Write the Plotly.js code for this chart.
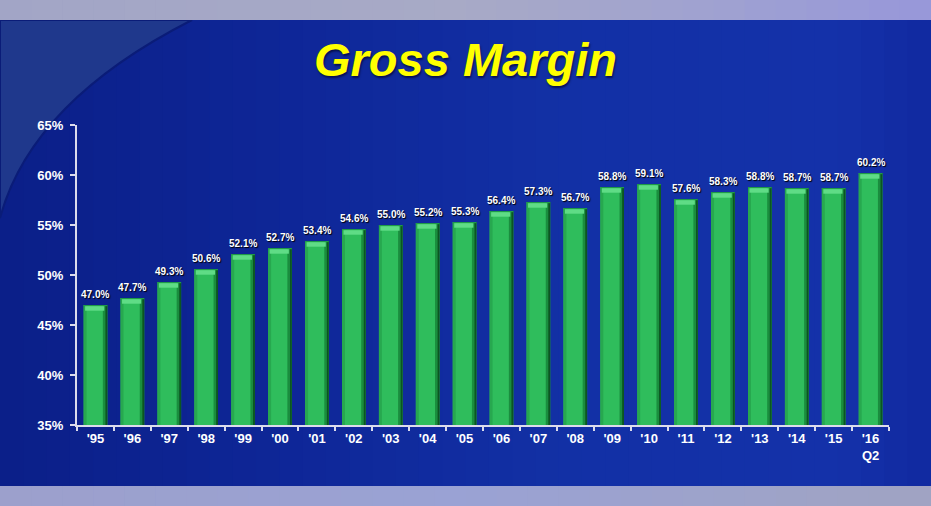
<!DOCTYPE html>
<html><head><meta charset="utf-8">
<script src="https://cdn.plot.ly/plotly-3.0.1.min.js"></script>
<style>html,body{margin:0;padding:0;background:#a2a5c8;}#chart{width:931px;height:506px;}</style>
</head><body><div id="chart"></div>
<script>
// ---- data ----
const categories = ["'95","'96","'97","'98","'99","'00","'01","'02","'03","'04","'05","'06","'07","'08","'09","'10","'11","'12","'13","'14","'15","'16<br>Q2"];
const grossMargin = [47.0,47.7,49.3,50.6,52.1,52.7,53.4,54.6,55.0,55.2,55.3,56.4,57.3,56.7,58.8,59.1,57.6,58.3,58.8,58.7,58.7,60.2];
const yTicks = [35,40,45,50,55,60,65];
const yTickLabels = ["35%","40%","45%","50%","55%","60%","65%"];
const chartTitle = "Gross Margin";

// ---- layout geometry (pixels) ----
const W = 931, H = 506;
const ML = 77, MR = 42, MT = 125, MB = 81;
const PW = W - ML - MR, PH = H - MT - MB;
const px = x => (x - ML) / PW;
const py = y => (H - MB - y) / PH;

function hex(c){return [parseInt(c.slice(1,3),16),parseInt(c.slice(3,5),16),parseInt(c.slice(5,7),16)];}
function lerpStops(stops, t){
  for(let i=0;i<stops.length-1;i++){
    const [t0,c0]=stops[i],[t1,c1]=stops[i+1];
    if(t>=t0&&t<=t1){const f=(t-t0)/(t1-t0);const a=hex(c0),b=hex(c1);
      return 'rgb('+a.map((v,k)=>Math.round(v+(b[k]-v)*f)).join(',')+')';}
  }
  return stops[stops.length-1][1];
}
const shapes = [];
function gradBand(y0,y1,stops,n){
  const sw=W/n;
  for(let i=0;i<n;i++){
    const c=lerpStops(stops,(i+0.5)/n);
    shapes.push({type:'rect',xref:'paper',yref:'paper',x0:px(i*sw),x1:px((i+1)*sw+0.8),y0:py(y1),y1:py(y0),fillcolor:c,line:{width:0},layer:'below'});
  }
}
// blue panel
gradBand(20,486,[[0,'#0b1f88'],[0.3,'#0e2697'],[0.6,'#1230a5'],[0.9,'#1431a9'],[1,'#1129a0']],40);
// lighter top-left arc region
const arcPath = `M ${px(0)},${py(20)} L ${px(192)},${py(20)} Q ${px(31)},${py(102)} ${px(0)},${py(218)} Z`;
shapes.push({type:'path',xref:'paper',yref:'paper',path:arcPath,fillcolor:'#1f388c',line:{color:'#0a1c78',width:2},layer:'below'});
// top and bottom lavender bands
gradBand(0,20,[[0,'#a2a5c6'],[0.5,'#a8aac6'],[0.8,'#9ea0d2'],[1,'#9797da']],30);
gradBand(486,506,[[0,'#9ca0cc'],[0.5,'#9aa2d4'],[1,'#a0a3c2']],30);

const textLabels = grossMargin.map(v => v.toFixed(1) + '%');

const traces = [
  { type:'bar', x:categories, y:grossMargin.map(v=>v-35), base:35, width:0.64, offset:-0.32,
    marker:{color:'#2fbd5c', line:{width:0}}, hoverinfo:'skip', showlegend:false },
  { type:'bar', x:categories, y:grossMargin.map(v=>v-35), base:35, width:0.08, offset:-0.32,
    marker:{color:'#27a84f', line:{width:0}}, hoverinfo:'skip', showlegend:false },
  { type:'bar', x:categories, y:grossMargin.map(v=>v-35), base:35, width:0.12, offset:0.2,
    marker:{color:'#1a8d3e', line:{width:0}}, hoverinfo:'skip', showlegend:false },
  { type:'bar', x:categories, y:grossMargin.map(v=>v-35), base:35, width:0.05, offset:0.27,
    marker:{color:'#0c5522', line:{width:0}}, hoverinfo:'skip', showlegend:false },
  { type:'bar', x:categories, y:grossMargin.map(()=>0.12), base:grossMargin.map(v=>v-0.12), width:0.64, offset:-0.32,
    marker:{color:'#1f9a48', line:{width:0}}, hoverinfo:'skip', showlegend:false },
  { type:'bar', x:categories, y:grossMargin.map(()=>0.45), base:grossMargin.map(v=>v-0.57), width:0.52, offset:-0.28,
    marker:{color:'#5fdc86', line:{width:0}}, hoverinfo:'skip', showlegend:false }
];

const annotations = categories.map((c,i)=>({
  x:c, y:grossMargin[i], xref:'x', yref:'y', text:textLabels[i], showarrow:false,
  yanchor:'middle', xanchor:'center', yshift:11,
  font:{family:'Liberation Sans, Arial, sans-serif', size:10, color:'#ffffff', weight:'bold', shadow:'1px 1px 1px #000'}
}));

const layout = {
  width:W, height:H,
  margin:{l:ML, r:MR, t:MT, b:MB, pad:0},
  paper_bgcolor:'#0f299c', plot_bgcolor:'rgba(0,0,0,0)',
  barmode:'overlay',
  shapes:shapes,
  annotations:annotations,
  title:{text:chartTitle, x:0.5, xref:'container', xanchor:'center', y:1-60/H, yref:'container', yanchor:'middle',
    font:{family:'Liberation Sans, Arial, sans-serif', size:47, color:'#ffff00', weight:'bold', style:'italic', shadow:'1px 2px 2px rgba(0,0,30,0.6)'}},
  xaxis:{type:'category', showgrid:false, zeroline:false, showline:true, linecolor:'#dcdcec', linewidth:2,
    ticks:'outside', ticklen:4, tickwidth:2, tickcolor:'#dcdcec', tickson:'boundaries',
    tickfont:{family:'Liberation Sans, Arial, sans-serif', size:13, color:'#ffffff', weight:'bold'},
    range:[-0.5, categories.length-0.5], fixedrange:true},
  yaxis:{range:[35,65], tickvals:yTicks, ticktext:yTickLabels, showgrid:false, zeroline:false,
    showline:true, linecolor:'#dcdcec', linewidth:2, ticks:'outside', ticklen:5, tickwidth:2, tickcolor:'#dcdcec',
    ticklabelstandoff:4,
    tickfont:{family:'Liberation Sans, Arial, sans-serif', size:13, color:'#ffffff', weight:'bold'}, fixedrange:true},
  showlegend:false
};

Plotly.newPlot('chart', traces, layout, {displayModeBar:false, staticPlot:true});
</script>
</body></html>
